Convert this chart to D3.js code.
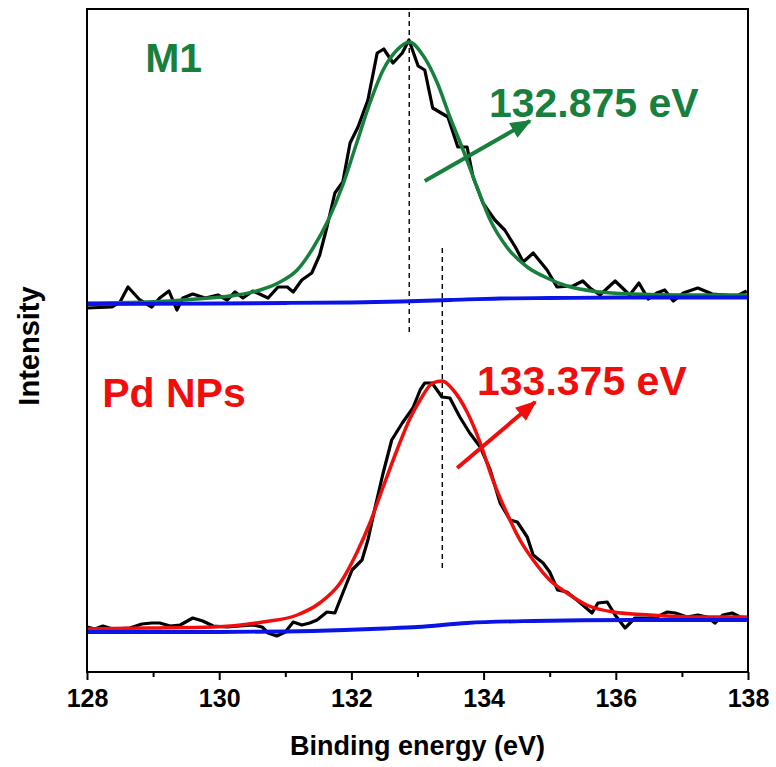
<!DOCTYPE html>
<html>
<head>
<meta charset="utf-8">
<script src="https://cdn.jsdelivr.net/npm/d3@7/dist/d3.min.js"></script>
<style>
  html, body { margin: 0; padding: 0; background: #ffffff; }
  svg { display: block; font-family: "Liberation Sans", Arial, sans-serif; }
</style>
</head>
<body>
<svg id="chart" width="776" height="767"></svg>
<script>
// P 2p XPS spectra, binding energy (eV) vs intensity (a.u.)
const xTicks = [128, 130, 132, 134, 136, 138];
const xMinorTicks = [129, 131, 133, 135, 137];

// M1: measured spectrum [eV, intensity]
const m1Raw = [
  [128.00,364],[128.38,365],[128.50,370],[128.62,385],[128.80,372],[128.98,365],
  [129.10,374],[129.24,381],[129.36,362],[129.45,374],[129.60,378],[129.79,374],
  [129.98,377],[130.12,372],[130.24,380],[130.36,374],[130.51,381],[130.74,374],
  [130.89,385],[131.03,385],[131.12,380],[131.25,392],[131.40,399],[131.52,417],
  [131.63,445],[131.75,479],[131.87,490],[131.98,529],[132.10,545],[132.25,572],
  [132.39,619],[132.49,623],[132.63,609],[132.77,619],[132.87,632],[133.01,606],
  [133.11,602],[133.23,564],[133.46,555],[133.61,525],[133.75,525],[133.84,495],
  [133.99,469],[134.17,452],[134.32,442],[134.48,425],[134.60,410],[134.75,419],
  [134.96,402],[135.11,385],[135.35,386],[135.50,391],[135.61,384],[135.76,377],
  [135.99,391],[136.21,377],[136.35,389],[136.49,373],[136.62,379],[136.74,382],
  [136.87,371],[137.02,379],[137.24,384],[137.46,378],[137.65,377],[137.83,376],
  [137.98,381]
];
// M1: fitted peak envelope
const m1Fit = [
  [128.00,369],[128.91,370],[129.66,373],[130.27,377],[130.62,382],[130.92,390],
  [131.18,402],[131.42,424],[131.65,452],[131.87,487],[132.08,529],[132.28,569],
  [132.48,602],[132.69,622],[132.875,630],[133.08,617],[133.30,589],[133.49,555],
  [133.69,522],[133.90,485],[134.10,452],[134.35,425],[134.66,405],[134.96,394],
  [135.26,386],[135.76,380],[136.26,378],[137.02,377],[138.00,377]
];
// M1: Shirley background
const m1Bg = [
  [128.00,368],[130.00,368.5],[131.00,369],[132.00,369.5],[132.75,370.5],
  [133.50,372],[134.25,373.5],[135.00,374],[136.00,374.5],[138.00,374.5]
];

// Pd NPs: measured spectrum
const pdRaw = [
  [128.00,45],[128.12,43],[128.24,46],[128.39,43],[128.65,44],[128.83,48],
  [128.98,49],[129.10,49],[129.26,46],[129.41,47],[129.60,54],[129.75,51],
  [129.91,46],[130.12,45],[130.31,46],[130.51,47],[130.65,45],[130.74,39],
  [130.87,36],[131.00,40],[131.12,50],[131.25,47],[131.37,49],[131.48,52],
  [131.63,60],[131.75,59],[131.87,79],[132.01,102],[132.16,112],[132.25,132],
  [132.36,165],[132.48,199],[132.61,232],[132.77,249],[132.93,264],[133.04,282],
  [133.11,289],[133.22,289],[133.37,275],[133.49,274],[133.64,255],[133.79,239],
  [133.95,225],[134.10,202],[134.25,169],[134.40,152],[134.51,150],[134.66,135],
  [134.75,117],[134.90,109],[135.00,100],[135.12,82],[135.26,80],[135.41,72],
  [135.50,67],[135.64,59],[135.73,69],[135.87,70],[135.99,57],[136.14,44],
  [136.29,54],[136.49,54],[136.62,55],[136.78,60],[136.90,59],[137.08,55],
  [137.24,57],[137.38,55],[137.50,49],[137.62,57],[137.76,59],[137.88,55],
  [138.00,54]
];
// Pd NPs: fitted peak envelope
const pdFit = [
  [128.00,43],[128.91,44],[129.91,45],[130.66,50],[131.18,57],[131.52,69],
  [131.83,89],[132.08,119],[132.28,149],[132.48,185],[132.69,222],[132.89,254],
  [133.04,272],[133.23,289],[133.375,291],[133.54,282],[133.75,260],[133.95,229],
  [134.14,192],[134.35,159],[134.55,132],[134.75,112],[135.00,92],[135.26,79],
  [135.56,67],[135.96,60],[136.52,57],[137.27,55],[138.00,55]
];
// Pd NPs: Shirley background
const pdBg = [
  [128.00,40],[130.00,40],[131.00,40.5],[131.90,42],[132.50,43.5],[133.00,45],
  [133.75,49],[134.75,51],[136.25,52],[138.00,52]
];

// Peak positions (eV) and annotation texts
const peakCenters = [132.875, 133.375];
const peakLabels = ["132.875 eV", "133.375 eV"];
const sampleNames = ["M1", "Pd NPs"];

const svg = d3.select("#chart");
const margin = { left: 87, right: 28, top: 9, bottom: 95 };
const W = 776, H = 767;

const x = d3.scaleLinear().domain([128, 138]).range([margin.left, W - margin.right]);
const y = d3.scaleLinear().domain([0, 663]).range([H - margin.bottom, margin.top]);

const GREEN = "#17803c";
const RED = "#f20d0d";
const BLUE = "#0a14e6";

// Arrow heads
const defs = svg.append("defs");
[["arrowGreen", GREEN], ["arrowRed", RED]].forEach(([id, col]) => {
  defs.append("marker")
    .attr("id", id)
    .attr("viewBox", "0 0 20 16")
    .attr("refX", 18).attr("refY", 8)
    .attr("markerWidth", 22).attr("markerHeight", 17)
    .attr("markerUnits", "userSpaceOnUse")
    .attr("orient", "auto")
    .append("path")
    .attr("d", "M0,0 L20,8 L0,16 Z")
    .attr("fill", col);
});

const plot = svg.append("g");

// Dashed peak markers
const dashSpans = [[660, 337], [424, 101]];
peakCenters.forEach((c, i) => {
  plot.append("line")
    .attr("x1", x(c)).attr("x2", x(c))
    .attr("y1", y(dashSpans[i][0])).attr("y2", y(dashSpans[i][1]))
    .attr("stroke", "#000").attr("stroke-width", 1.4)
    .attr("stroke-dasharray", "5,4");
});

const rawLine = d3.line().x(d => x(d[0])).y(d => y(d[1]));
const smoothLine = d3.line().x(d => x(d[0])).y(d => y(d[1])).curve(d3.curveMonotoneX);

function drawSeries(raw, bg, fit, fitColor) {
  plot.append("path").datum(raw)
    .attr("d", rawLine).attr("fill", "none")
    .attr("stroke", "#000").attr("stroke-width", 3.2).attr("stroke-linejoin", "round");
  plot.append("path").datum(fit)
    .attr("d", smoothLine).attr("fill", "none")
    .attr("stroke", fitColor).attr("stroke-width", 3.5);
  plot.append("path").datum(bg)
    .attr("d", smoothLine).attr("fill", "none")
    .attr("stroke", BLUE).attr("stroke-width", 3.8);
}
drawSeries(m1Raw, m1Bg, m1Fit, GREEN);
drawSeries(pdRaw, pdBg, pdFit, RED);

// Arrows pointing to the peak-position labels
const arrows = [
  { from: [133.11, 491], to: [134.70, 551], id: "arrowGreen", color: GREEN },
  { from: [133.60, 204], to: [134.78, 270], id: "arrowRed", color: RED }
];
arrows.forEach(a => {
  plot.append("line")
    .attr("x1", x(a.from[0])).attr("y1", y(a.from[1]))
    .attr("x2", x(a.to[0])).attr("y2", y(a.to[1]))
    .attr("stroke", a.color).attr("stroke-width", 4)
    .attr("marker-end", `url(#${a.id})`);
});

// Text annotations
const texts = [
  { t: sampleNames[0], e: 128.88, v: 600, c: GREEN },
  { t: peakLabels[0], e: 134.08, v: 555, c: GREEN },
  { t: sampleNames[1], e: 128.23, v: 265, c: RED },
  { t: peakLabels[1], e: 133.90, v: 277, c: RED }
];
texts.forEach(d => {
  plot.append("text")
    .attr("x", x(d.e)).attr("y", y(d.v))
    .attr("fill", d.c).attr("font-size", 41).attr("font-weight", "bold")
    .text(d.t);
});

// Frame
svg.append("rect")
  .attr("x", x(128)).attr("y", y(663))
  .attr("width", x(138) - x(128)).attr("height", y(0) - y(663))
  .attr("fill", "none").attr("stroke", "#000").attr("stroke-width", 2);

// Bottom axis
const xAxis = d3.axisBottom(x).tickValues(xTicks).tickSize(8).tickPadding(9)
  .tickFormat(d3.format("d"));
const gx = svg.append("g").attr("transform", `translate(0,${y(0)})`).call(xAxis);
gx.select(".domain").remove();
gx.selectAll(".tick line").attr("stroke", "#000").attr("stroke-width", 2);
gx.selectAll(".tick text")
  .attr("fill", "#000").attr("font-size", 25).attr("font-weight", "bold")
  .attr("font-family", "'Liberation Sans', Arial, sans-serif");

const gxMinor = svg.append("g").attr("transform", `translate(0,${y(0)})`)
  .call(d3.axisBottom(x).tickValues(xMinorTicks).tickSize(5).tickFormat(""));
gxMinor.select(".domain").remove();
gxMinor.selectAll(".tick line").attr("stroke", "#000").attr("stroke-width", 2);

// Axis titles
svg.append("text")
  .attr("x", (x(128) + x(138)) / 2).attr("y", 755)
  .attr("text-anchor", "middle").attr("font-size", 27).attr("font-weight", "bold")
  .attr("fill", "#000")
  .text("Binding energy (eV)");

svg.append("text")
  .attr("transform", `translate(39,${346}) rotate(-90)`)
  .attr("text-anchor", "middle").attr("font-size", 29).attr("font-weight", "bold")
  .attr("fill", "#000")
  .text("Intensity");
</script>
</body>
</html>
